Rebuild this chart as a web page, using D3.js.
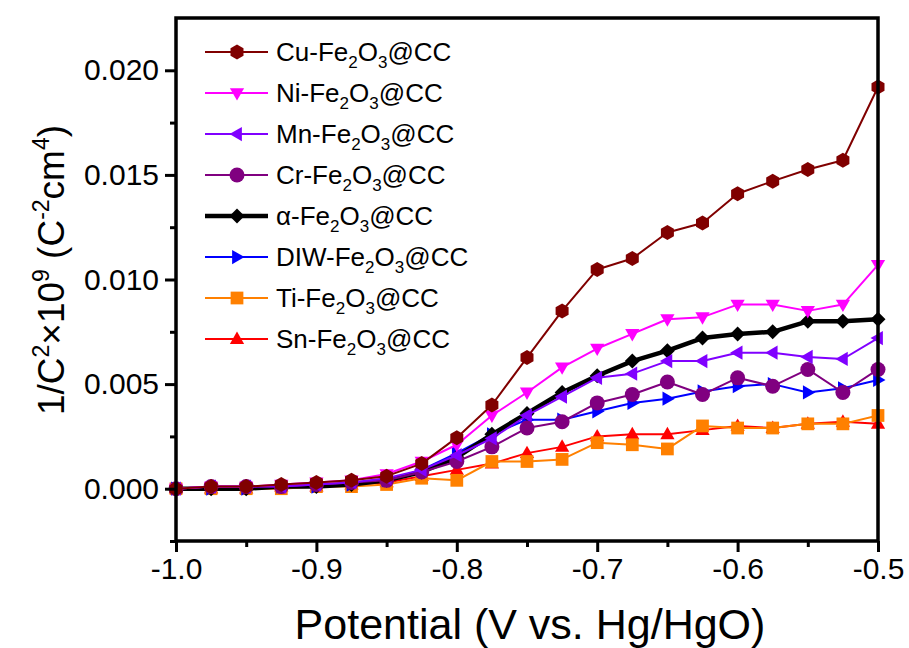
<!DOCTYPE html>
<html>
<head>
<meta charset="utf-8">
<script src="https://cdn.jsdelivr.net/npm/d3@7"></script>
<style>
  body { margin: 0; background: #fff; }
  svg { display: block; font-family: "Liberation Sans", Arial, sans-serif; }
</style>
</head>
<body>
<svg id="chart" width="909" height="648"></svg>
<script>
// ---------- DATA ----------
const potentials = [-1.0, -0.975, -0.95, -0.925, -0.9, -0.875, -0.85, -0.825, -0.8, -0.775, -0.75,
                    -0.725, -0.7, -0.675, -0.65, -0.625, -0.6, -0.575, -0.55, -0.525, -0.5];
const seriesNames = ["Cu", "Ni", "Mn", "Cr", "α", "DIW", "Ti", "Sn"];
const cuValues  = [0.0000, 0.0001, 0.0001, 0.0002, 0.0003, 0.0004, 0.0006, 0.0012, 0.00244, 0.0040, 0.00627, 0.0085, 0.01048, 0.0110, 0.01225, 0.0127, 0.0141, 0.0147, 0.01526, 0.0157, 0.0192];
const niValues  = [0.0000, 0.0001, 0.0001, 0.0002, 0.0003, 0.0004, 0.0007, 0.0013, 0.0021, 0.0035, 0.0046, 0.0058, 0.0067, 0.0074, 0.0081, 0.0082, 0.0088, 0.0088, 0.0085, 0.0088, 0.0107];
const mnValues  = [0.0000, 0.0001, 0.0001, 0.0001, 0.0002, 0.0003, 0.0005, 0.0009, 0.0016, 0.0024, 0.0035, 0.0044, 0.0053, 0.0055, 0.0061, 0.0061, 0.0065, 0.0065, 0.0063, 0.0062, 0.0072];
const crValues  = [0.0000, 0.0001, 0.0001, 0.0001, 0.0002, 0.0003, 0.0004, 0.0008, 0.0013, 0.0020, 0.0029, 0.0032, 0.0041, 0.0045, 0.0051, 0.0045, 0.0053, 0.0049, 0.0057, 0.0046, 0.0057];
const alphaValues = [0.0000, 0.0000, 0.0000, 0.0001, 0.0001, 0.0002, 0.0004, 0.0008, 0.0015, 0.0026, 0.0036, 0.0046, 0.0054, 0.0061, 0.0066, 0.0072, 0.0074, 0.0075, 0.0080, 0.0080, 0.0081];
const diwValues = [0.0000, 0.0000, 0.0000, 0.0001, 0.0001, 0.0002, 0.0004, 0.0009, 0.0017, 0.0026, 0.0033, 0.0033, 0.0037, 0.0041, 0.0043, 0.00465, 0.0049, 0.0050, 0.0046, 0.0048, 0.0052];
const tiValues  = [0.0000, 0.0000, 0.0000, 0.0000, 0.0001, 0.0001, 0.0002, 0.0005, 0.0004, 0.0013, 0.0013, 0.0014, 0.0022, 0.0021, 0.0019, 0.0030, 0.0029, 0.0029, 0.0031, 0.0031, 0.0035];
const snValues  = [0.0000, 0.0000, 0.0000, 0.0001, 0.0001, 0.0002, 0.0003, 0.0006, 0.0009, 0.0012, 0.0017, 0.0020, 0.0025, 0.0026, 0.0026, 0.0028, 0.0030, 0.0029, 0.0031, 0.0032, 0.0031];
const xTicks = [-1.0, -0.9, -0.8, -0.7, -0.6, -0.5];
const yTicks = [0.000, 0.005, 0.010, 0.015, 0.020];

// ---------- STYLE ----------
const series = [
  {prefix: "Cu-",  values: cuValues,    color: "#800000", marker: "hexagon", width: 2},
  {prefix: "Ni-",  values: niValues,    color: "#ff00ff", marker: "triDown", width: 2},
  {prefix: "Mn-",  values: mnValues,    color: "#8000ff", marker: "triLeft", width: 2},
  {prefix: "Cr-",  values: crValues,    color: "#800080", marker: "circle",  width: 2},
  {prefix: "α-",   values: alphaValues, color: "#000000", marker: "diamond", width: 4.5},
  {prefix: "DIW-", values: diwValues,   color: "#0000ff", marker: "triRight",width: 2},
  {prefix: "Ti-",  values: tiValues,    color: "#ff8000", marker: "square",  width: 2},
  {prefix: "Sn-",  values: snValues,    color: "#ff0000", marker: "triUp",   width: 2}
];

const svg = d3.select("#chart");
const pLeft = 176, pRight = 878, pTop = 18, pBottom = 541;
const x = d3.scaleLinear().domain([-1.0, -0.5]).range([pLeft, pRight]);
const y = d3.scaleLinear().domain([-0.0025, 0.0225]).range([pBottom, pTop]);

function markerPath(type, r) {
  switch (type) {
    case "hexagon": {
      const pts = d3.range(6).map(i => { const a = Math.PI / 6 + i * Math.PI / 3; return [r * Math.cos(a), r * Math.sin(a)]; });
      return "M" + pts.map(p => p.join(",")).join("L") + "Z";
    }
    case "circle": return `M${r},0A${r},${r} 0 1,1 ${-r},0A${r},${r} 0 1,1 ${r},0Z`;
    case "square": { const s = r * 0.85; return `M${-s},${-s}L${s},${-s}L${s},${s}L${-s},${s}Z`; }
    case "diamond": return `M0,${-r}L${r},0L0,${r}L${-r},0Z`;
    case "triUp": return `M0,${-r}L${r * 0.95},${r * 0.65}L${-r * 0.95},${r * 0.65}Z`;
    case "triDown": return `M0,${r}L${r * 0.95},${-r * 0.65}L${-r * 0.95},${-r * 0.65}Z`;
    case "triLeft": return `M${-r},0L${r * 0.65},${-r * 0.95}L${r * 0.65},${r * 0.95}Z`;
    case "triRight": return `M${r},0L${-r * 0.65},${-r * 0.95}L${-r * 0.65},${r * 0.95}Z`;
  }
}

// ---------- DATA SERIES (drawn in reverse so Cu is on top) ----------
const line = d3.line().x((d, i) => x(potentials[i])).y(d => y(d));
const plot = svg.append("g");
series.slice().reverse().forEach(s => {
  plot.append("path")
    .attr("d", line(s.values))
    .attr("fill", "none")
    .attr("stroke", s.color)
    .attr("stroke-width", s.width)
    .attr("stroke-linejoin", "round");
  plot.selectAll(null).data(s.values).enter().append("path")
    .attr("d", markerPath(s.marker, 7.5))
    .attr("transform", (d, i) => `translate(${x(potentials[i])},${y(d)})`)
    .attr("fill", s.color);
});

// ---------- AXES ----------
const tickFont = 30;
const xMinor = [-0.95, -0.85, -0.75, -0.65, -0.55];
const yMinor = [-0.0025, 0.0025, 0.0075, 0.0125, 0.0175];

const xAxis = svg.append("g").attr("transform", `translate(0,${pBottom})`)
  .call(d3.axisBottom(x).tickValues(xTicks).tickFormat(d => d.toFixed(1)).tickSize(11).tickSizeOuter(0).tickPadding(6));
const xAxisMinor = svg.append("g").attr("transform", `translate(0,${pBottom})`)
  .call(d3.axisBottom(x).tickValues(xMinor).tickFormat("").tickSize(6).tickSizeOuter(0));
const yAxis = svg.append("g").attr("transform", `translate(${pLeft},0)`)
  .call(d3.axisLeft(y).tickValues(yTicks).tickFormat(d => d.toFixed(3)).tickSize(11).tickSizeOuter(0).tickPadding(6));
const yAxisMinor = svg.append("g").attr("transform", `translate(${pLeft},0)`)
  .call(d3.axisLeft(y).tickValues(yMinor).tickFormat("").tickSize(6).tickSizeOuter(0));

[xAxis, xAxisMinor, yAxis, yAxisMinor].forEach(g => {
  g.select(".domain").remove();
  g.selectAll(".tick line").attr("stroke", "#000").attr("stroke-width", 3);
  g.selectAll(".tick text").attr("fill", "#000").attr("font-size", tickFont)
    .attr("font-family", "'Liberation Sans', Arial, sans-serif");
});

// frame
svg.append("rect")
  .attr("x", pLeft).attr("y", pTop)
  .attr("width", pRight - pLeft).attr("height", pBottom - pTop)
  .attr("fill", "none").attr("stroke", "#000").attr("stroke-width", 3.5);

// ---------- TITLES ----------
svg.append("text")
  .attr("x", 530).attr("y", 639)
  .attr("text-anchor", "middle").attr("font-size", 43).attr("fill", "#000")
  .text("Potential (V vs. Hg/HgO)");

const yt = svg.append("text")
  .attr("transform", `translate(64,270) rotate(-90)`)
  .attr("text-anchor", "middle").attr("font-size", 37).attr("fill", "#000");
yt.append("tspan").text("1/C");
yt.append("tspan").attr("font-size", 23).attr("dy", -15).text("2");
yt.append("tspan").attr("dy", 15).text("×10");
yt.append("tspan").attr("font-size", 23).attr("dy", -15).text("9");
yt.append("tspan").attr("dy", 15).text(" (C");
yt.append("tspan").attr("font-size", 23).attr("dy", -15).text("-2");
yt.append("tspan").attr("dy", 15).text("cm");
yt.append("tspan").attr("font-size", 23).attr("dy", -15).text("4");
yt.append("tspan").attr("dy", 15).text(")");

// ---------- LEGEND ----------
const legend = svg.append("g");
series.forEach((s, i) => {
  const cy = 52 + i * 41;
  const g = legend.append("g").attr("transform", `translate(0,${cy})`);
  g.append("line").attr("x1", 205).attr("x2", 268).attr("y1", 0).attr("y2", 0)
    .attr("stroke", s.color).attr("stroke-width", s.width);
  g.append("path").attr("d", markerPath(s.marker, 7.5)).attr("transform", "translate(237,0)").attr("fill", s.color);
  const t = g.append("text").attr("x", 276).attr("y", 9).attr("font-size", 26).attr("fill", "#000");
  t.append("tspan").text(s.prefix + "Fe");
  t.append("tspan").attr("font-size", 17).attr("dy", 7).text("2");
  t.append("tspan").attr("dy", -7).text("O");
  t.append("tspan").attr("font-size", 17).attr("dy", 7).text("3");
  t.append("tspan").attr("dy", -7).text("@CC");
});
</script>
</body>
</html>
